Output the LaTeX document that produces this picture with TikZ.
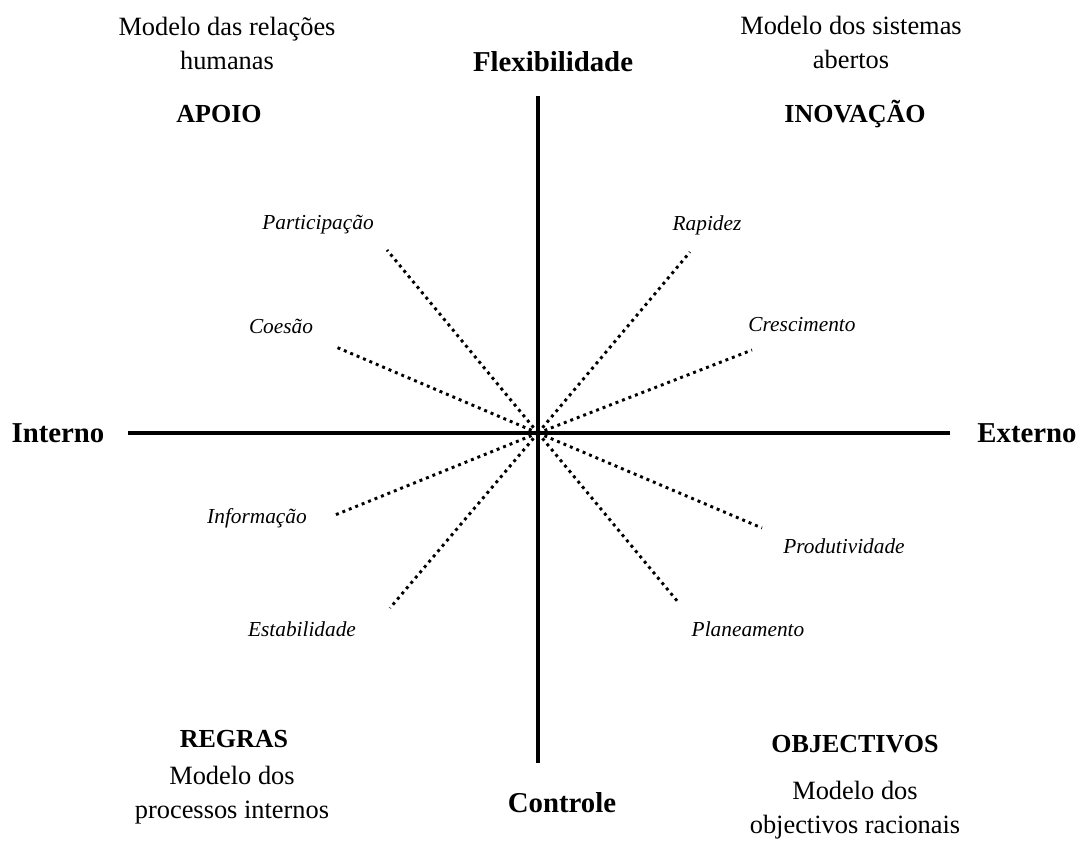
\documentclass[tikz,border=0pt]{standalone}
\usepackage{fontspec}
\setmainfont{Liberation Serif}
\begin{document}
\begin{tikzpicture}[x=0.75pt,y=-0.75pt,
  axis/.style={line width=2.3pt},
  spoke/.style={line width=2.2pt, dash pattern=on 2.2pt off 3pt},
  axislabel/.style={font=\fontsize{21.6}{26}\selectfont\bfseries},
  quadname/.style={font=\fontsize{19.5}{24}\selectfont\bfseries},
  model/.style={align=center, font=\fontsize{19.8}{25.5}\selectfont},
  value/.style={font=\fontsize{16}{19}\selectfont\itshape}]
\useasboundingbox (0,0) rectangle (1080,844);

% centre and axes
\coordinate (O) at (538,433);
\coordinate (L) at (128,433);
\coordinate (R) at (950,433);
\coordinate (T) at (538,96);
\coordinate (B) at (538,763);
\draw[axis] (L) -- (R);
\draw[axis] (T) -- (B);

% axis labels
\node[axislabel] (flex) at (553,62) {Flexibilidade};
\node[axislabel] (ctrl) at (562,803) {Controle};
\node[axislabel] (int) at (58,433) {Interno};
\node[axislabel] (ext) at (1027,433) {Externo};

% quadrant names and models
\node[model] (mrh) at (227,43) {Modelo das relações\\humanas};
\node[quadname] (apoio) at (219,114) {APOIO};
\node[model] (msa) at (851,42) {Modelo dos sistemas\\abertos};
\node[quadname] (inov) at (855,114) {INOVAÇÃO};
\node[quadname] (regras) at (234,739) {REGRAS};
\node[model] (mpi) at (232,795) {Modelo dos\\processos internos};
\node[quadname] (obj) at (855,744) {OBJECTIVOS};
\node[model] (mor) at (855,810) {Modelo dos\\objectivos racionais};

% spoke ends
\coordinate (sPa) at (387,250);
\coordinate (sCo) at (336,347);
\coordinate (sIn) at (335,515);
\coordinate (sEs) at (390,608);
\coordinate (sRa) at (690,252);
\coordinate (sCr) at (752,350);
\coordinate (sPr) at (762,528);
\coordinate (sPl) at (678,602);
\foreach \e in {sPa,sCo,sIn,sEs,sRa,sCr,sPr,sPl}
  \draw[spoke] (O) -- (\e);

% spoke labels
\node[value] (pa) at (318,225) {Participação};
\node[value] (co) at (281,326) {Coesão};
\node[value] (inf) at (257,518) {Informação};
\node[value] (es) at (302,629) {Estabilidade};
\node[value] (ra) at (707,225) {Rapidez};
\node[value] (cr) at (802,325) {Crescimento};
\node[value] (pr) at (844,546) {Produtividade};
\node[value] (pl) at (748,629) {Planeamento};
\end{tikzpicture}
\end{document}
